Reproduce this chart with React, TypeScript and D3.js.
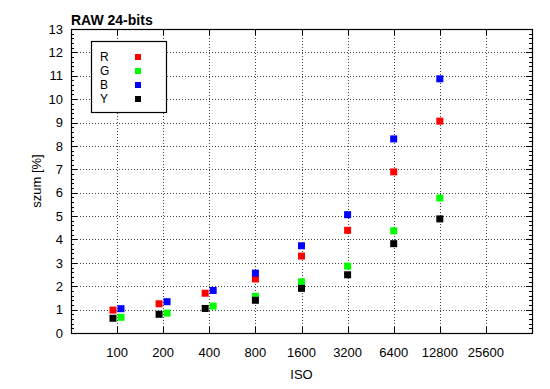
import React from 'react';
import * as d3 from 'd3';

// ISO ticks shown on the x axis
const isoTicks = [100, 200, 400, 800, 1600, 3200, 6400, 12800, 25600];
const yTicks = d3.range(0, 14);

// measured points (x = ISO as plotted, y = noise in %)
const isoR = [94, 188, 376, 800, 1600, 3200, 6400, 12800];
const valR = [0.98, 1.25, 1.70, 2.31, 3.29, 4.39, 6.89, 9.06];
const isoG = [106, 212, 424, 800, 1600, 3200, 6400, 12800];
const valG = [0.67, 0.85, 1.15, 1.57, 2.19, 2.86, 4.37, 5.77];
const isoB = [106, 212, 424, 800, 1600, 3200, 6400, 12800];
const valB = [1.04, 1.34, 1.82, 2.56, 3.73, 5.06, 8.30, 10.87];
const isoY = [94, 188, 376, 800, 1600, 3200, 6400, 12800];
const valY = [0.63, 0.80, 1.05, 1.40, 1.91, 2.49, 3.82, 4.88];

const series = [
  { name: 'R', color: '#ff0000', iso: isoR, val: valR },
  { name: 'G', color: '#00ff00', iso: isoG, val: valG },
  { name: 'B', color: '#0000ff', iso: isoB, val: valB },
  { name: 'Y', color: '#000000', iso: isoY, val: valY },
];

const W = 550;
const H = 389;
const left = 71;
const right = 532;
const top = 29;
const bottom = 333;
const font = 'Liberation Sans, Arial, sans-serif';

export default function App() {
  const x = d3.scaleLog().base(2).domain([50, 51200]).range([left, right]);
  const y = d3.scaleLinear().domain([0, 13]).range([bottom, top]);
  const minor = d3.range(0, 13.001, 0.2).filter(v => Math.abs(v - Math.round(v)) > 0.01);

  return (
    <svg width={W} height={H} style={{ position: 'absolute', left: 0, top: 0, background: '#fff' }}>
      {/* grid */}
      <g stroke="#444" strokeWidth={1} strokeDasharray="1,2">
        {yTicks.filter(t => t > 0 && t < 13).map(t => (
          <line key={'gy' + t} x1={left} x2={right} y1={Math.round(y(t)) + 0.5} y2={Math.round(y(t)) + 0.5} />
        ))}
        {isoTicks.map(t => (
          <line key={'gx' + t} x1={Math.round(x(t)) + 0.5} x2={Math.round(x(t)) + 0.5} y1={top} y2={bottom} />
        ))}
      </g>
      {/* ticks */}
      <g stroke="#000" strokeWidth={1}>
        {yTicks.map(t => {
          const yy = Math.round(y(t)) + 0.5;
          return (
            <g key={'ty' + t}>
              <line x1={left} x2={left + 6} y1={yy} y2={yy} />
              <line x1={right - 6} x2={right} y1={yy} y2={yy} />
            </g>
          );
        })}
        {minor.map(t => {
          const yy = Math.round(y(t)) + 0.5;
          return (
            <g key={'my' + t}>
              <line x1={left} x2={left + 3} y1={yy} y2={yy} />
              <line x1={right - 3} x2={right} y1={yy} y2={yy} />
            </g>
          );
        })}
        {isoTicks.map(t => {
          const xx = Math.round(x(t)) + 0.5;
          return (
            <g key={'tx' + t}>
              <line x1={xx} x2={xx} y1={bottom} y2={bottom - 6} />
              <line x1={xx} x2={xx} y1={top} y2={top + 6} />
            </g>
          );
        })}
      </g>
      {/* frame */}
      <rect x={left + 0.5} y={top + 0.5} width={right - left} height={bottom - top} fill="none" stroke="#000" strokeWidth={1.2} />
      {/* tick labels */}
      <g fontFamily={font} fontSize={13} fill="#000">
        {yTicks.map(t => (
          <text key={'ly' + t} x={left - 8} y={y(t)} dy="0.36em" textAnchor="end">{t}</text>
        ))}
        {isoTicks.map(t => (
          <text key={'lx' + t} x={x(t)} y={bottom + 19} dy="0.36em" textAnchor="middle">{t}</text>
        ))}
        <text x={(left + right) / 2} y={bottom + 41} dy="0.36em" textAnchor="middle">ISO</text>
        <text transform={`translate(36,${(top + bottom) / 2}) rotate(-90)`} textAnchor="middle" dy="0.36em">szum [%]</text>
        <text x={left} y={25} fontWeight="bold" fontSize={14}>RAW 24-bits</text>
      </g>
      {/* points */}
      {series.map(s => (
        <g key={s.name} fill={s.color}>
          {s.iso.map((iso, i) => (
            <rect key={i} x={x(iso) - 3.5} y={y(s.val[i]) - 3.5} width={7} height={7} />
          ))}
        </g>
      ))}
      {/* legend */}
      <rect x={91.5} y={41.5} width={75} height={71} fill="#fff" stroke="#000" strokeWidth={1.2} />
      {series.map((s, i) => (
        <g key={'lg' + s.name}>
          <text x={100} y={57 + i * 14} dy="0.36em" fontFamily={font} fontSize={12}>{s.name}</text>
          <rect x={135} y={54 + i * 14} width={6} height={6} fill={s.color} />
        </g>
      ))}
    </svg>
  );
}
